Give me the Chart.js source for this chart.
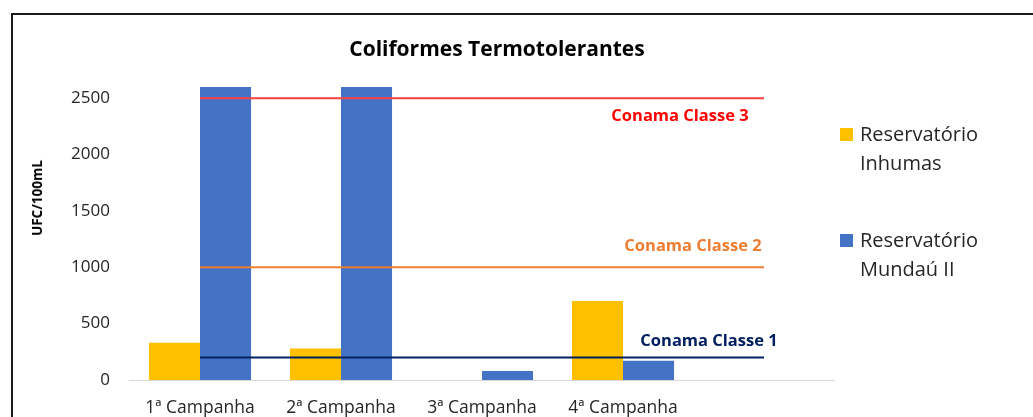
<!DOCTYPE html>
<html>
<head>
<meta charset="utf-8">
<script src="https://cdn.jsdelivr.net/npm/chart.js@4.4.1/dist/chart.umd.min.js"></script>
<style>
  html, body { margin:0; padding:0; background:#fff; overflow:hidden; width:1033px; height:417px; }
  #frame { position:absolute; left:11px; top:13px; width:1100px; height:500px; border:2px solid #1a1a1a; box-sizing:border-box; }
  #c { position:absolute; left:0; top:0; }
  #title { position:absolute; left:297px; width:400px; top:33px; text-align:center; font-family:"Open Sans"; font-weight:bold; font-size:21px; line-height:30px; color:#000; }
  #ytitle { position:absolute; left:37px; top:198px; transform:translate(-50%,-50%) rotate(-90deg); font-family:"Open Sans"; font-weight:bold; font-size:13.5px; white-space:nowrap; color:#000; }
  .leg { position:absolute; left:860px; font-family:"Open Sans"; font-size:20px; line-height:29px; color:#262626; }
  .sw { position:absolute; left:-20px; top:9px; width:13px; height:13px; }
</style>
</head>
<body>
<div id="frame"></div>
<canvas id="c" width="1033" height="417"></canvas>
<div id="title"></div>
<div id="ytitle"></div>
<div id="legend"></div>
<script>
// ---- data ----
const chartTitle = "Coliformes Termotolerantes";
const yAxisTitle = "UFC/100mL";
const categories = ["1ª Campanha", "2ª Campanha", "3ª Campanha", "4ª Campanha", ""];
const seriesNames = ["Reservatório Inhumas", "Reservatório Mundaú II"];
const legendLines = [["Reservatório", "Inhumas"], ["Reservatório", "Mundaú II"]];
const inhumas = [330, 280, 0, 700, null];
const mundau = [2600, 2600, 80, 170, null];
const conamaNames = ["Conama Classe 3", "Conama Classe 2", "Conama Classe 1"];
const conamaLimits = [2500, 1000, 200];
const yTicks = [0, 500, 1000, 1500, 2000, 2500];
const yMax = 2600;

const barColors = ["#FFC000", "#4472C4"];
const conamaColors = ["#FF4040", "#ED7D31", "#002060"];
const conamaTextColors = ["#FF0000", "#ED7D31", "#002060"];
// label placement (pixels relative to line): [dx from last category center, dy from line]
const conamaLabelOffsets = [[-84, 18], [-71, -21], [-55, -16]];

document.getElementById('title').textContent = chartTitle;
document.getElementById('ytitle').textContent = yAxisTitle;
const legTops = [119, 225];
const legend = document.getElementById('legend');
legendLines.forEach((lines, i) => {
  const d = document.createElement('div');
  d.className = 'leg';
  d.style.top = legTops[i] + 'px';
  const sw = document.createElement('span');
  sw.className = 'sw';
  sw.style.background = barColors[i];
  d.appendChild(sw);
  lines.forEach((t, j) => {
    if (j) d.appendChild(document.createElement('br'));
    d.appendChild(document.createTextNode(t));
  });
  legend.appendChild(d);
});

const datasets = [];
conamaNames.forEach((name, i) => {
  datasets.push({
    type: 'line',
    label: name,
    data: categories.map(() => conamaLimits[i]),
    borderColor: conamaColors[i],
    borderWidth: 2,
    pointRadius: 0,
    fill: false,
    order: 1
  });
});
datasets.push({ type:'bar', label: seriesNames[0], data: inhumas, backgroundColor: barColors[0], order: 2 });
datasets.push({ type:'bar', label: seriesNames[1], data: mundau, backgroundColor: barColors[1], order: 2 });

const conamaLabelPlugin = {
  id: 'conamaLabels',
  afterDatasetsDraw(chart) {
    const ctx = chart.ctx;
    const xs = chart.scales.x, ys = chart.scales.y;
    ctx.save();
    ctx.font = 'bold 16.5px "Open Sans"';
    ctx.textAlign = 'center';
    ctx.textBaseline = 'middle';
    conamaNames.forEach((name, i) => {
      const x = xs.getPixelForValue(categories.length - 1) + conamaLabelOffsets[i][0];
      const y = ys.getPixelForValue(conamaLimits[i]) + conamaLabelOffsets[i][1];
      ctx.fillStyle = conamaTextColors[i];
      ctx.fillText(name, x, y);
    });
    ctx.restore();
  }
};

new Chart(document.getElementById('c'), {
  data: { labels: categories, datasets },
  options: {
    responsive: false,
    animation: false,
    devicePixelRatio: 1,
    layout: { padding: { top: 87, right: 198.5, left: 0, bottom: 0 } },
    plugins: { legend: { display: false }, title: { display: false }, tooltip: { enabled: false } },
    datasets: { bar: { barPercentage: 1, categoryPercentage: 0.724 } },
    scales: {
      x: {
        grid: { display: false, drawTicks: false },
        border: { display: true, color: '#D9D9D9', width: 1 },
        ticks: { font: { family: 'Open Sans', size: 17.5 }, color: '#262626', padding: 18, maxRotation: 0, autoSkip: false },
        afterFit(s) { s.height = 37; }
      },
      y: {
        min: 0, max: yMax,
        grid: { display: false, drawTicks: false },
        border: { display: false },
        ticks: { font: { family: 'Open Sans', size: 17 }, color: '#262626', padding: 19.5, callback: v => String(v) },
        afterBuildTicks(s) { s.ticks = yTicks.map(v => ({ value: v })); },
        afterFit(s) { s.width = 129.5; }
      }
    }
  },
  plugins: [conamaLabelPlugin]
});
</script>
</body>
</html>
